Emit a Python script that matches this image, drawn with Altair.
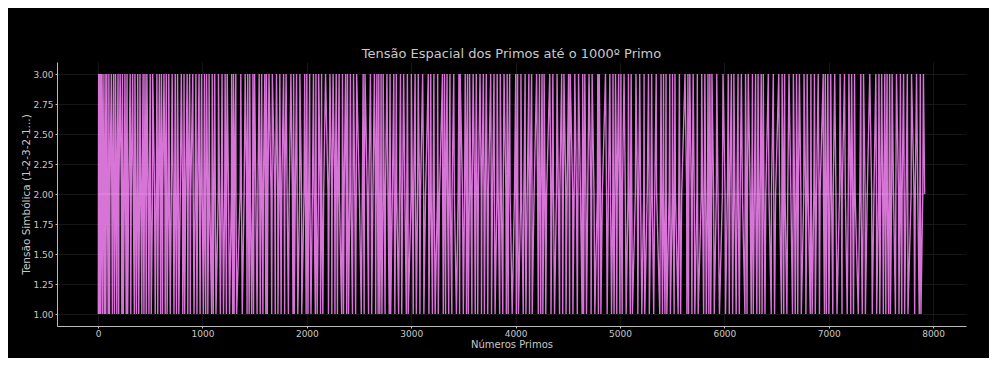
import altair as alt
import pandas as pd

# Data: the first 1000 primes (x) and the symbolic tension pattern 1-2-3-2-1... (y)
N_PRIMES = 1000
LIMIT = 7920
PATTERN = [1, 2, 3, 2]

sieve = [True] * (LIMIT + 1)
sieve[0] = sieve[1] = False
for i in range(2, int(LIMIT ** 0.5) + 1):
    if sieve[i]:
        for j in range(i * i, LIMIT + 1, i):
            sieve[j] = False
primes = [n for n in range(LIMIT + 1) if sieve[n]][:N_PRIMES]
tension = [PATTERN[i % len(PATTERN)] for i in range(len(primes))]

x_ticks = [0, 1000, 2000, 3000, 4000, 5000, 6000, 7000, 8000]
y_ticks = [1.0, 1.25, 1.5, 1.75, 2.0, 2.25, 2.5, 2.75, 3.0]

df = pd.DataFrame({"primo": primes, "tensao": tension, "ordem": list(range(len(primes)))})
band = pd.DataFrame({"x0": [primes[0]], "x1": [primes[-1]], "y": [2]})

TEXT = "#c8c8c8"
FONT = "DejaVu Sans"

x_scale = alt.Scale(domain=[-394, 8315], nice=False, zero=False)
y_scale = alt.Scale(domain=[0.9, 3.1], nice=False, zero=False)
x_axis = alt.Axis(title="Números Primos", values=x_ticks, format="d",
                  tickSize=2, labelPadding=1, titlePadding=1)
y_axis = alt.Axis(title="Tensão Simbólica (1-2-3-2-1...)", values=y_ticks,
                  format=".2f", labelOverlap=False, tickSize=2, labelPadding=2,
                  titlePadding=1, titleFontSize=10.5)

line = alt.Chart(df).mark_line(color="#ee82ee", strokeWidth=1.4, opacity=0.9).encode(
    x=alt.X("primo:Q", scale=x_scale, axis=x_axis),
    y=alt.Y("tensao:Q", scale=y_scale, axis=y_axis),
    order="ordem:Q",
)

rule = alt.Chart(band).mark_rule(color="#f4b8f4", strokeWidth=1, opacity=0.35).encode(
    x=alt.X("x0:Q", scale=x_scale, axis=x_axis),
    x2="x1:Q",
    y=alt.Y("y:Q", scale=y_scale, axis=y_axis),
)

chart = (
    alt.layer(line, rule)
    .properties(
        width=909,
        height=264,
        title=alt.TitleParams("Tensão Espacial dos Primos até o 1000º Primo",
                              font=FONT, fontSize=13, fontWeight="normal",
                              color=TEXT, offset=1),
        autosize=alt.AutoSizeParams(type="none"),
        padding={"left": 49, "top": 54, "right": 23, "bottom": 32},
    )
    .configure(background="#000000")
    .configure_view(stroke=None)
    .configure_axis(
        labelFont=FONT, titleFont=FONT, labelColor=TEXT, titleColor=TEXT,
        labelFontSize=9, titleFontSize=10, titleFontWeight="normal",
        domainColor="#bbbbbb", tickColor="#bbbbbb",
        gridColor="#1c1c1c", gridOpacity=1, gridWidth=0.8,
    )
)

chart.save("out.html", embed_options={"renderer": "svg", "actions": False})
